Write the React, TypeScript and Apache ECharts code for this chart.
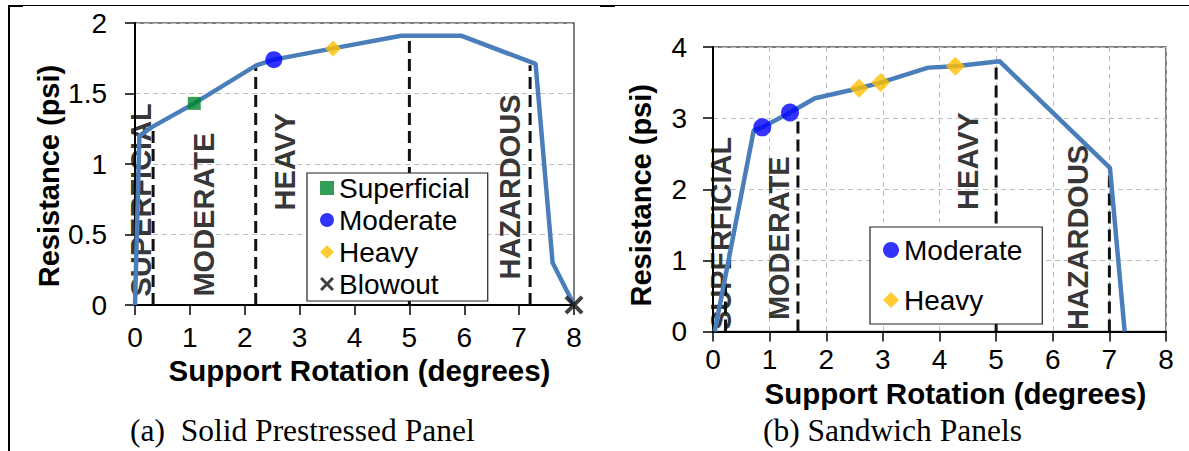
import React, { useEffect, useRef } from "react";
import * as echarts from "echarts";

// ---------- data: (a) Solid Prestressed Panel ----------
const leftCurveX = [0, 0.08, 0.3, 1.08, 2.21, 2.53, 3.61, 4.85, 5.94, 7.3, 7.61, 8];
const leftCurveY = [0, 1.2, 1.26, 1.43, 1.7, 1.74, 1.82, 1.91, 1.91, 1.71, 0.3, 0];
const leftSuperficial = [[1.08, 1.43]];
const leftModerate = [[2.53, 1.74]];
const leftHeavy = [[3.61, 1.82]];
const leftBlowout = [[8, 0]];
const leftBoundX = [0.33, 2.2, 5.0, 7.2];
const leftBoundTop = [1.25, 1.7, 1.91, 1.7];
const zoneNames = ["SUPERFICIAL", "MODERATE", "HEAVY", "HAZARDOUS"];
const leftZoneX = [0.11, 1.26, 2.73, 6.83];
const leftZoneY = [0.06, 0.06, 0.67, 0.18];

// ---------- data: (b) Sandwich Panels ----------
const rightCurveX = [0.03, 0.72, 0.87, 1.36, 1.8, 2.58, 2.96, 3.8, 4.28, 5.06, 7.01, 7.27];
const rightCurveY = [0, 2.83, 2.87, 3.08, 3.28, 3.42, 3.5, 3.71, 3.73, 3.8, 2.3, 0];
const rightModerate = [[0.87, 2.87], [1.36, 3.08]];
const rightHeavy = [[2.58, 3.42], [2.96, 3.5], [4.28, 3.73]];
const rightBoundX = [0.22, 1.5, 5.0, 7.0];
const rightBoundTop = [0.8, 2.97, 3.78, 2.3];
const rightZoneX = [0.14, 1.16, 4.51, 6.45];
const rightZoneY = [0.02, 0.16, 1.71, 0.02];

const xMax = 8;
const leftYMax = 2;
const rightYMax = 4;

const SANS = "'Liberation Sans', Arial, sans-serif";
const SERIF = "'Liberation Serif', 'Times New Roman', serif";
const CURVE = "#4a7ebb";
const GREEN = "#00862a";
const BLUE = "#0000ff";
const ORANGE = "#ffc000";
const XPATH =
  "path://M0,3 L3,0 L10,7 L17,0 L20,3 L13,10 L20,17 L17,20 L10,13 L3,20 L0,17 L7,10 Z";

function zip(xs: number[], ys: number[]) {
  return xs.map((x, i) => [x, ys[i]]);
}

function axisPair(idx: number, yMax: number, yInt: number, vGrid: boolean, o: any) {
  const common = {
    axisLine: { show: true, lineStyle: { color: "#000", width: 2 } },
    axisTick: { show: true, length: 10, lineStyle: { color: "#000", width: 1.5 } },
  };
  const x = {
    type: "value",
    gridIndex: idx,
    min: 0,
    max: xMax,
    interval: 1,
    ...common,
    axisLabel: { fontSize: 28, color: "#000", fontFamily: SANS, margin: o.xMargin },
    splitLine: { show: vGrid, lineStyle: { color: "#bdbdbd", type: [5, 4], width: 1 } },
    name: "Support Rotation (degrees)",
    nameLocation: "middle",
    nameGap: o.xNameGap,
    nameTextStyle: {
      fontSize: 29.5,
      fontWeight: "bold",
      color: "#000",
      fontFamily: SANS,
      padding: o.xNamePad,
    },
  };
  const y = {
    type: "value",
    gridIndex: idx,
    min: 0,
    max: yMax,
    interval: yInt,
    ...common,
    axisLabel: { fontSize: 28, color: "#000", fontFamily: SANS, margin: o.yMargin },
    splitLine: { show: true, lineStyle: { color: "#bdbdbd", type: [5, 4], width: 1 } },
    name: "Resistance (psi)",
    nameLocation: "middle",
    nameGap: o.yNameGap,
    nameTextStyle: {
      fontSize: 29,
      fontWeight: "bold",
      color: "#000",
      fontFamily: SANS,
      padding: o.yNamePad,
    },
  };
  return { x, y };
}

function boundSeries(idx: number, xs: number[], tops: number[]) {
  return xs.map((x, i) => ({
    type: "line",
    xAxisIndex: idx,
    yAxisIndex: idx,
    data: [
      [x, 0],
      [x, tops[i]],
    ],
    symbol: "none",
    silent: true,
    z: 2,
    lineStyle: { color: "#111", width: 3, type: [12, 6] },
  }));
}

function zoneSeries(idx: number, xs: number[], ys: number[]) {
  return {
    type: "scatter",
    xAxisIndex: idx,
    yAxisIndex: idx,
    symbolSize: 1,
    silent: true,
    z: 1,
    itemStyle: { color: "rgba(0,0,0,0)" },
    data: zoneNames.map((n, i) => ({ name: n, value: [xs[i], ys[i]] })),
    label: {
      show: true,
      formatter: "{b}",
      position: "inside",
      rotate: 90,
      align: "left",
      verticalAlign: "middle",
      fontSize: 29,
      fontWeight: "bold",
      color: "#000",
      fontFamily: SANS,
    },
  };
}

export default function App() {
  const ref = useRef<HTMLDivElement>(null);
  useEffect(() => {
    const chart = echarts.init(ref.current!, null, { renderer: "svg" });
    const L = axisPair(0, leftYMax, 0.5, false, {
      xMargin: 18,
      yMargin: 28,
      xNameGap: 50,
      yNameGap: 72,
      xNamePad: [0, 0, 0, 10],
      yNamePad: [0, 24, 0, 0],
    });
    const R = axisPair(1, rightYMax, 1, true, {
      xMargin: 14,
      yMargin: 26,
      xNameGap: 41,
      yNameGap: 58,
      xNamePad: [0, 0, 0, 32],
      yNamePad: [0, 12, 0, 0],
    });
    const option: any = {
      animation: false,
      backgroundColor: "#fff",
      grid: [
        { left: 135, top: 23, width: 439, height: 282, show: true, borderColor: "#555", borderWidth: 1.5, backgroundColor: "transparent" },
        { left: 713, top: 47, width: 453, height: 284.5, show: true, borderColor: "#555", borderWidth: 1.5, backgroundColor: "transparent" },
      ],
      xAxis: [L.x, R.x],
      yAxis: [L.y, R.y],
      legend: [
        {
          orient: "vertical",
          left: 307,
          top: 173,
          padding: [1, 18, 3, 13],
          itemGap: 4,
          itemWidth: 14,
          itemHeight: 14,
          selectedMode: false,
          backgroundColor: "#fff",
          borderColor: "#222",
          borderWidth: 1.2,
          textStyle: { fontSize: 28, color: "#000", fontFamily: SANS },
          data: [
            { name: "Superficial", icon: "rect" },
            { name: "Moderate", icon: "circle" },
            { name: "Heavy", icon: "diamond" },
            { name: "Blowout", icon: XPATH },
          ],
        },
        {
          orient: "vertical",
          left: 870,
          top: 227,
          padding: [9, 20, 10, 13],
          itemGap: 22,
          itemWidth: 16,
          itemHeight: 16,
          selectedMode: false,
          backgroundColor: "#fff",
          borderColor: "#222",
          borderWidth: 1.2,
          textStyle: { fontSize: 28, color: "#000", fontFamily: SANS },
          data: [
            { name: "Moderate", icon: "circle" },
            { name: "Heavy", icon: "diamond" },
          ],
        },
      ],
      series: [
        zoneSeries(0, leftZoneX, leftZoneY),
        zoneSeries(1, rightZoneX, rightZoneY),
        ...boundSeries(0, leftBoundX, leftBoundTop),
        ...boundSeries(1, rightBoundX, rightBoundTop),
        {
          type: "line",
          name: "Curve A",
          xAxisIndex: 0,
          yAxisIndex: 0,
          data: zip(leftCurveX, leftCurveY),
          symbol: "none",
          z: 3,
          lineStyle: { color: CURVE, width: 4.5 },
        },
        {
          type: "line",
          name: "Curve B",
          xAxisIndex: 1,
          yAxisIndex: 1,
          data: zip(rightCurveX, rightCurveY),
          symbol: "none",
          z: 3,
          lineStyle: { color: CURVE, width: 4.5 },
        },
        { type: "scatter", name: "Superficial", xAxisIndex: 0, yAxisIndex: 0, data: leftSuperficial, symbol: "rect", symbolSize: 13, z: 4, itemStyle: { color: GREEN } },
        { type: "scatter", name: "Moderate", xAxisIndex: 0, yAxisIndex: 0, data: leftModerate, symbol: "circle", symbolSize: 17, z: 4, itemStyle: { color: BLUE } },
        { type: "scatter", name: "Heavy", xAxisIndex: 0, yAxisIndex: 0, data: leftHeavy, symbol: "diamond", symbolSize: 16, z: 4, itemStyle: { color: ORANGE } },
        { type: "scatter", name: "Blowout", xAxisIndex: 0, yAxisIndex: 0, data: leftBlowout, symbol: XPATH, symbolSize: 19, z: 4, itemStyle: { color: "#111" } },
        { type: "scatter", name: "Moderate", xAxisIndex: 1, yAxisIndex: 1, data: rightModerate, symbol: "circle", symbolSize: 18, z: 4, itemStyle: { color: BLUE } },
        { type: "scatter", name: "Heavy", xAxisIndex: 1, yAxisIndex: 1, data: rightHeavy, symbol: "diamond", symbolSize: 19, z: 4, itemStyle: { color: ORANGE } },
      ],
      graphic: [
        { type: "line", shape: { x1: 8, y1: 5.5, x2: 1189, y2: 5.5 }, style: { stroke: "#000", lineWidth: 1 }, silent: true },
        { type: "rect", shape: { x: 8, y: 5, width: 15, height: 2 }, style: { fill: "#000" }, silent: true },
        { type: "rect", shape: { x: 600, y: 5, width: 15, height: 2 }, style: { fill: "#000" }, silent: true },
        { type: "rect", shape: { x: 8, y: 5, width: 2, height: 446 }, style: { fill: "#000" }, silent: true },
        {
          type: "text",
          left: 130,
          top: 414,
          style: { text: "(a)  Solid Prestressed Panel", fontSize: 31.5, fontFamily: SERIF, fill: "#000" },
          silent: true,
        },
        {
          type: "text",
          left: 763,
          top: 414,
          style: { text: "(b) Sandwich Panels", fontSize: 31.5, fontFamily: SERIF, fill: "#000" },
          silent: true,
        },
      ],
    };
    chart.setOption(option);
    return () => chart.dispose();
  }, []);
  return (
    <div
      ref={ref}
      style={{ position: "fixed", left: 0, top: 0, width: 1189, height: 451, background: "#fff" }}
    />
  );
}
